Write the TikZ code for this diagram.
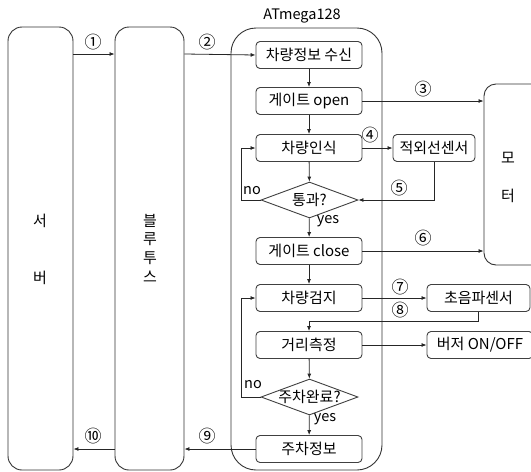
\documentclass[tikz,border=0pt]{standalone}
\usepackage{fontspec}
\setmainfont{Noto Sans CJK KR}
\usetikzlibrary{arrows.meta,shapes.geometric}
\begin{document}
\begin{tikzpicture}[x=1pt,y=-1pt,
  ln/.style={line width=0.8pt,draw=black!85},
  arr/.style={ln,-{Latex[length=5pt,width=4pt]}},
  bigbox/.style={draw=black!80,line width=0.9pt,rounded corners=#1,inner sep=0pt},
  proc/.style={draw=black!75,line width=0.9pt,rounded corners=4pt,minimum width=106pt,minimum height=27pt,inner sep=1pt,font=\fontsize{15}{17}\selectfont},
  side/.style={proc,minimum width=#1},
  dec/.style={diamond,draw=black!75,line width=0.9pt,minimum width=97pt,minimum height=36pt,inner sep=0pt},
  dtext/.style={font=\fontsize{15}{17}\selectfont,inner sep=0pt},
  num/.style={font=\fontsize{17}{17}\selectfont,inner sep=0pt},
  lbl/.style={font=\fontsize{14.5}{15}\selectfont,inner sep=0pt},
  vtxt/.style={font=\fontsize{15}{15}\selectfont,inner sep=0pt}
]
\useasboundingbox (0,0) rectangle (531,472);

% big boxes
\node[bigbox=14pt,minimum width=65pt,minimum height=443pt] (srv) at (40.5,248.5) {};
\node[bigbox=14pt,minimum width=69pt,minimum height=443pt] (bt) at (149.5,248.5) {};
\node[bigbox=25pt,minimum width=151pt,minimum height=442pt] (atm) at (306.5,249) {};
\node[bigbox=12pt,minimum width=80pt,minimum height=181pt] (mt) at (524,174.5) {};

\node[lbl] (atml) at (302,16) {ATmega128};

\node[vtxt] (s1) at (40,221) {서};
\node[vtxt] (s2) at (40,278) {버};
\node[vtxt] (b1) at (150,221) {블};
\node[vtxt] (b2) at (150,239.5) {루};
\node[vtxt] (b3) at (150,258) {투};
\node[vtxt] (b4) at (150,276.5) {스};
\node[vtxt] (m1) at (508,158) {모};
\node[vtxt] (m2) at (508,196) {터};

% process boxes
\node[proc] (p1) at (309,55) {차량정보 수신};
\node[proc] (p2) at (309,101) {게이트 open};
\node[proc] (p3) at (309,148) {차량인식};
\node[dec] (d1) at (309.5,200) {};
\node[dtext] (d1t) at (309.5,200) {통과?};
\node[proc] (p4) at (309,251) {게이트 close};
\node[proc] (p5) at (309,298) {차량검지};
\node[proc] (p6) at (309,345) {거리측정};
\node[dec] (d2) at (309.5,397) {};
\node[dtext] (d2t) at (309.5,397) {주차완료?};
\node[proc] (p7) at (309,449) {주차정보};

\node[side=82pt] (ir) at (434,148) {적외선센서};
\node[side=103pt] (us) at (478.5,298) {초음파센서};
\node[side=106pt] (bz) at (480,345) {버저 ON/OFF};

% vertical flow
\draw[arr] (p1) -- (p2);
\draw[arr] (p2) -- (p3);
\draw[arr] (p3) -- (d1);
\draw[arr] (d1) -- (p4);
\draw[arr] (p4) -- (p5);
\draw[arr] (p6) -- (d2);
\draw[arr] (d2) -- (p7);

% loops
\draw[arr] (d1.west) -- ++(-19,0) |- (p3.west);
\draw[arr] (d2.west) -- ++(-19,0) |- (p5.west);
\node[lbl] (no1) at (252,191) {no};
\node[lbl] (no2) at (253,385) {no};
\node[lbl] (y1) at (328,221) {yes};
\node[lbl] (y2) at (325,419) {yes};

% links
\draw[arr] (srv.east |- 0,54) -- (bt.west |- 0,54);
\draw[arr] (bt.east |- 0,54) -- (p1.west);
\draw[arr] (p2.east) -- (mt.west |- p2.east);
\draw[arr] (p3.east) -- (ir.west);
\draw[arr] (ir.south) |- (d1.east);
\draw[arr] (p4.east) -- (mt.west |- p4.east);
\draw[arr] (p5.east) -- (us.west);
\draw[arr] (us.south) -- ++(0,9) -| (p6.north);
\draw[arr] (p6.east) -- (bz.west);
\draw[arr] (p7.west) -- (bt.east |- p7.west);
\draw[arr] (bt.west |- p7.west) -- (srv.east |- p7.west);

% numbers
\node[num] (n1) at (93,42) {①};
\node[num] (n2) at (207,42) {②};
\node[num] (n3) at (423,89) {③};
\node[num] (n4) at (370,135) {④};
\node[num] (n5) at (399,188) {⑤};
\node[num] (n6) at (423,238) {⑥};
\node[num] (n7) at (400,287) {⑦};
\node[num] (n8) at (400,310) {⑧};
\node[num] (n9) at (207,436) {⑨};
\node[num] (n10) at (93,436) {⑩};
\end{tikzpicture}
\end{document}
